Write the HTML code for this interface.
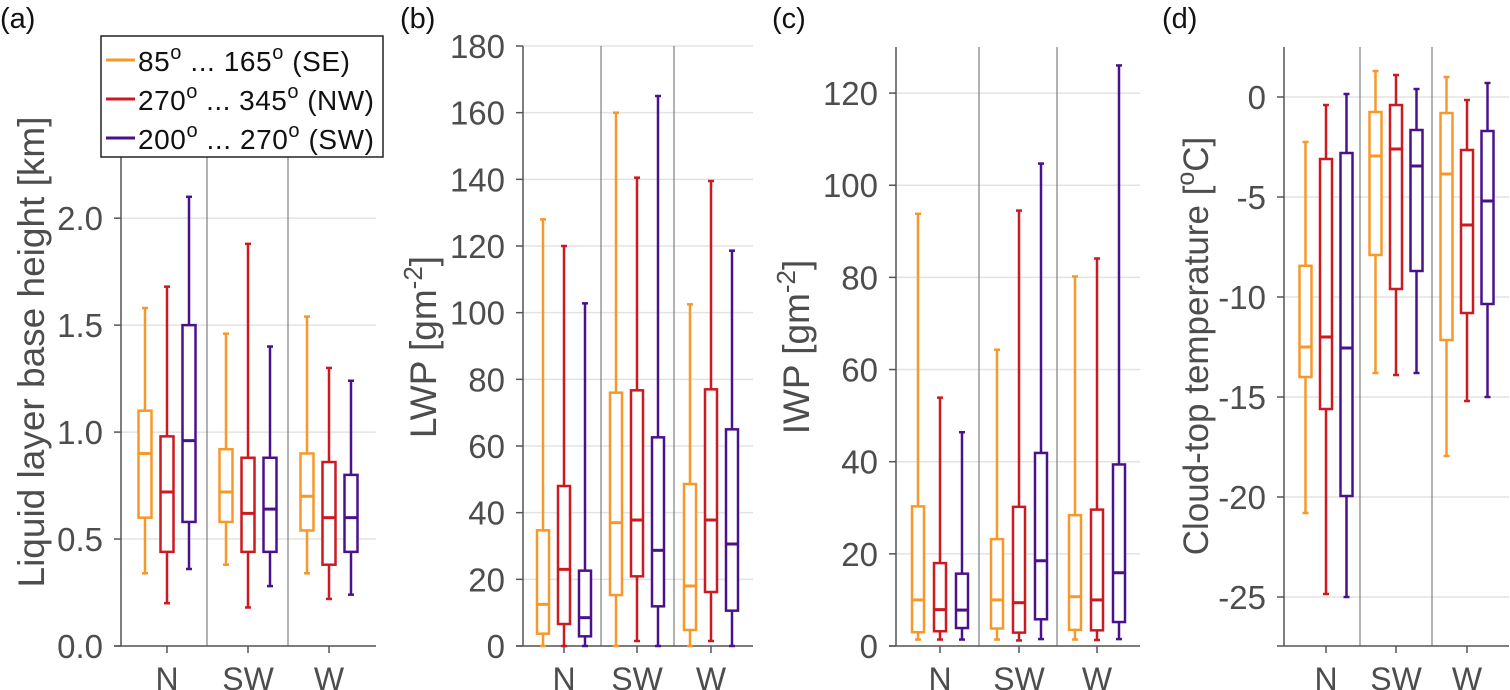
<!DOCTYPE html>
<html><head><meta charset="utf-8"><style>
html,body{margin:0;padding:0;background:#fff}
svg{display:block;font-family:"Liberation Sans",sans-serif}
</style></head><body>
<svg id="fig" width="1510" height="690" viewBox="0 0 1510 690"></svg>
<script>
const categories = ["N","SW","W"];
const seriesNames = ["85\u00b0 ... 165\u00b0 (SE)","270\u00b0 ... 345\u00b0 (NW)","200\u00b0 ... 270\u00b0 (SW)"];
// each box: [low whisker, q1, median, q3, high whisker]; order per category: SE, NW, SW
const baseHeightBoxes = [
 [[0.34,0.60,0.90,1.10,1.58],[0.20,0.44,0.72,0.98,1.68],[0.36,0.58,0.96,1.50,2.10]],
 [[0.38,0.58,0.72,0.92,1.46],[0.18,0.44,0.62,0.88,1.88],[0.28,0.44,0.64,0.88,1.40]],
 [[0.34,0.54,0.70,0.90,1.54],[0.22,0.38,0.60,0.86,1.30],[0.24,0.44,0.60,0.80,1.24]]];
const lwpBoxes = [
 [[0,3.7,12.5,34.7,128],[0,6.6,23,48,120],[0,2.9,8.5,22.6,102.8]],
 [[0,15.3,37,76,160],[1.5,20.9,37.8,76.7,140.5],[0,11.9,28.7,62.6,165]],
 [[0,4.8,18,48.6,102.5],[1.5,16.2,37.8,77,139.5],[0,10.6,30.6,65,118.6]]];
const iwpBoxes = [
 [[1.4,3,10,30.3,93.8],[1.4,3.2,7.9,18,53.9],[1.4,3.9,7.8,15.7,46.4]],
 [[1.4,3.8,10,23.2,64.3],[1.2,2.9,9.4,30.2,94.5],[1.5,5.8,18.5,41.9,104.7]],
 [[1.4,3.5,10.7,28.4,80.2],[1.3,3.4,10,29.6,84.1],[1.5,5.2,15.9,39.4,126]]];
const ctempBoxes = [
 [[-20.8,-14,-12.5,-8.44,-2.25],[-24.85,-15.6,-12,-3.1,-0.4],[-25,-19.95,-12.55,-2.8,0.15]],
 [[-13.8,-7.9,-2.95,-0.75,1.3],[-13.9,-9.6,-2.6,-0.4,1.1],[-13.8,-8.7,-3.45,-1.65,0.4]],
 [[-17.95,-12.15,-3.85,-0.8,1.0],[-15.2,-10.8,-6.4,-2.65,-0.15],[-15,-10.35,-5.2,-1.7,0.7]]];
const ticksA = [0,0.5,1.0,1.5,2.0];
const tickLabelsA = ["0.0","0.5","1.0","1.5","2.0"];
const ticksB = [0,20,40,60,80,100,120,140,160,180];
const ticksC = [0,20,40,60,80,100,120];
const ticksD = [0,-5,-10,-15,-20,-25];

const colors = ["#f7982a","#cc1a20","#4a128a"];
const NS = "http://www.w3.org/2000/svg";
const svg = document.getElementById("fig");
function mk(tag, attrs, parent, text){
  const e = document.createElementNS(NS, tag);
  for (const k in attrs) e.setAttribute(k, attrs[k]);
  if (text !== undefined) e.textContent = text;
  (parent||svg).appendChild(e);
  return e;
}

function panel(o){
  const g = mk("g", {});
  
  
  const y = v => o.bottom - (v - o.ymin) / (o.ymax - o.ymin) * (o.bottom - o.top);
  o.ticks.forEach((t,i)=>{
    const gl = mk("line",{x1:o.left,x2:o.right,y1:y(t),y2:y(t),stroke:"#e3e3e3","stroke-width":1.5},g);
    
    
    const tk = mk("line",{x1:o.left-7,x2:o.left,y1:y(t),y2:y(t),stroke:"#555","stroke-width":1.5},g);
    
    
    const lb = mk("text",{x:o.left-18,y:y(t)+12,"text-anchor":"end","font-size":33,fill:"#4d4d4d"},g,o.labels?o.labels[i]:String(t));
    
    
  });
  o.dividers.forEach(d=>{
    const dl = mk("line",{x1:d,x2:d,y1:o.top,y2:o.bottom,stroke:"#666","stroke-width":1},g);
    
    
  });
  const ya = mk("line",{x1:o.left,x2:o.left,y1:o.top,y2:o.bottom,stroke:"#555","stroke-width":1.5},g);
  
  
  const xa = mk("line",{x1:o.left-7,x2:o.right,y1:o.bottom,y2:o.bottom,stroke:"#555","stroke-width":1.5},g);
  
  
  categories.forEach((c,ci)=>{
    const cx = o.cats[ci];
    const xt = mk("line",{x1:cx,x2:cx,y1:o.bottom,y2:o.bottom+7,stroke:"#555","stroke-width":1.5},g);
    
    
    const xl = mk("text",{x:cx,y:o.bottom+44,"text-anchor":"middle","font-size":32,fill:"#4d4d4d"},g,c);
    
    
    o.data[ci].forEach((b,si)=>{
      const bx = cx + (si-1)*o.off;
      const col = colors[si];
      const bg = mk("g",{},g);
      
      
      mk("line",{x1:bx,x2:bx,y1:y(b[0]),y2:y(b[1]),stroke:col,"stroke-width":2.5},bg);
      mk("line",{x1:bx,x2:bx,y1:y(b[3]),y2:y(b[4]),stroke:col,"stroke-width":2.5},bg);
      mk("line",{x1:bx-3,x2:bx+3,y1:y(b[0]),y2:y(b[0]),stroke:col,"stroke-width":2.5},bg);
      mk("line",{x1:bx-3,x2:bx+3,y1:y(b[4]),y2:y(b[4]),stroke:col,"stroke-width":2.5},bg);
      mk("rect",{x:bx-o.bw/2,y:y(b[3]),width:o.bw,height:y(b[1])-y(b[3]),fill:"#fff",stroke:col,"stroke-width":2.5},bg);
      mk("line",{x1:bx-o.bw/2,x2:bx+o.bw/2,y1:y(b[2]),y2:y(b[2]),stroke:col,"stroke-width":3},bg);
    });
  });
  const tt = mk("text",{x:0,y:0,transform:`translate(${o.tx},${o.ty}) rotate(-90)`,"text-anchor":"middle","font-size":o.tfs||37,fill:"#4d4d4d"},g);
  
  
  tt.innerHTML = o.title;
  const pl = mk("text",{x:o.px,y:28,"font-size":29,fill:"#111"},g,o.plabel);
  
  
}

panel({name:"panel-a-base-height",left:121,right:376,top:154,bottom:646,ymin:0,ymax:2.3,ticks:ticksA,labels:tickLabelsA,
  dividers:[207,288],cats:[167,248,329],off:22,bw:13,data:baseHeightBoxes,tx:44,ty:352,
  title:"Liquid layer base height [km]",plabel:"(a)",px:0});
panel({name:"panel-b-lwp",left:523,right:753,top:46,bottom:646,ymin:0,ymax:180,ticks:ticksB,
  dividers:[601,674],cats:[564,637,711],off:21,bw:12,data:lwpBoxes,tx:436,ty:347,
  title:'LWP [gm<tspan dy="-14" font-size="26">-2</tspan><tspan dy="14">]</tspan>',plabel:"(b)",px:400});
panel({name:"panel-c-iwp",left:896,right:1140,top:47,bottom:646,ymin:0,ymax:130,ticks:ticksC,
  dividers:[979,1057],cats:[940,1019,1097],off:22,bw:12,data:iwpBoxes,tx:809,ty:347,
  title:'IWP [gm<tspan dy="-14" font-size="26">-2</tspan><tspan dy="14">]</tspan>',plabel:"(c)",px:772});
panel({name:"panel-d-cloud-top-temp",left:1284,right:1509,top:47,bottom:646,ymin:-27.45,ymax:2.5,ticks:ticksD,
  dividers:[1360,1432],cats:[1326,1396,1467],off:20.5,bw:12,data:ctempBoxes,tx:1208,ty:346,tfs:35,
  title:'Cloud-top temperature [<tspan dy="-14" font-size="25">o</tspan><tspan dy="14">C]</tspan>',plabel:"(d)",px:1162});

const lg = mk("g",{});


mk("rect",{x:101,y:36,width:282,height:121,fill:"#fff",stroke:"#222","stroke-width":1.5},lg);
const legTexts = [["85","165","(SE)"],["270","345","(NW)"],["200","270","(SW)"]];
legTexts.forEach((t,i)=>{
  const ly = 60 + i*39;
  const e = mk("g",{},lg);
  
  
  mk("line",{x1:106,x2:135,y1:ly,y2:ly,stroke:colors[i],"stroke-width":3},e);
  const tx = mk("text",{x:138,y:ly+11,"font-size":28,fill:"#111",textLength:236,lengthAdjust:"spacing"},e);
  if (i===0) tx.setAttribute("textLength", 212);
  tx.innerHTML = `${t[0]}<tspan dy="-12" font-size="20">o</tspan><tspan dy="12"> ... ${t[1]}</tspan><tspan dy="-12" font-size="20">o</tspan><tspan dy="12"> ${t[2]}</tspan>`;
});
</script>
</body></html>
